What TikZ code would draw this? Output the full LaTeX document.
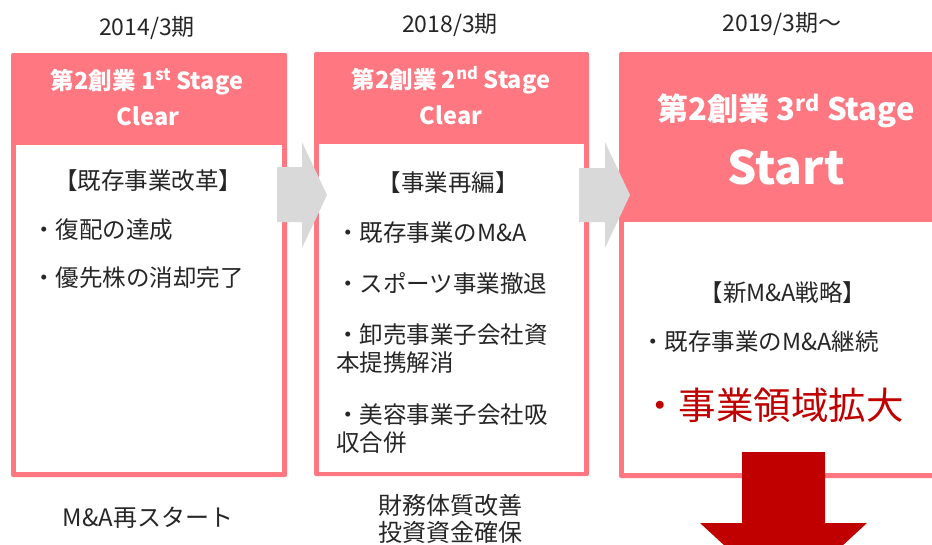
\documentclass[tikz,border=0pt]{standalone}
\usepackage{fontspec}
\setmainfont{Noto Sans CJK JP}
\definecolor{pinkc}{HTML}{FF7780}
\definecolor{grayc}{HTML}{D9D9D9}
\definecolor{redc}{HTML}{C00000}
\definecolor{txt}{HTML}{262626}
\begin{document}
\begin{tikzpicture}[x=1pt,y=-1pt,
  year/.style={font=\fontsize{23}{27}\selectfont, text=txt, inner sep=0},
  hdr/.style={font=\fontsize{23.5}{28}\selectfont\bfseries, text=white, inner sep=0},
  body/.style={font=\fontsize{23.5}{28}\selectfont, text=txt, inner sep=0, anchor=west},
  bodyc/.style={font=\fontsize{23.5}{28}\selectfont, text=txt, inner sep=0},
  small/.style={font=\fontsize{23.5}{28}\selectfont, text=txt, inner sep=0},
  below/.style={font=\fontsize{24}{27}\selectfont, text=txt, inner sep=0, align=center},
  outer/.style={fill=pinkc, rounded corners=2pt},
  inner/.style={fill=white},
  grayarrow/.style={fill=grayc},
  redarrow/.style={fill=redc}]
\useasboundingbox (0,0) rectangle (932,544);
\clip (0,0) rectangle (932,544);

% year labels
\node[year] (y1) at (147,28) {2014/3期};
\node[year] (y2) at (450,25) {2018/3期};
\node[year] (y3) at (782,24) {2019/3期～};

% box 1
\fill[outer] (11,53) rectangle (287,477);
\fill[inner] (16,145) rectangle (282,472);
% box 2
\fill[outer] (314,52) rectangle (589,476);
\fill[inner] (319,144) rectangle (584,472);
% box 3
\fill[outer] (619,52) rectangle (960,478);
\fill[inner] (624,222) rectangle (960,473);

% headers
\node[hdr] (h1a) at (147,82) {第2創業 1\textsuperscript{st} Stage};
\node[hdr] (h1b) at (148,116) {Clear};
\node[hdr] (h2a) at (451,80) {第2創業 2\textsuperscript{nd} Stage};
\node[hdr] (h2b) at (451,115) {Clear};
\node[hdr, font=\fontsize{31}{36}\selectfont\bfseries] (h3a) at (786,111) {第2創業 3\textsuperscript{rd} Stage};
\node[hdr, font=\fontsize{46}{50}\selectfont\bfseries] (h3b) at (786,167) {Start};

% box 1 body
\node[bodyc] (t1) at (148,181) {【既存事業改革】};
\node[body] (b11) at (32,230) {・復配の達成};
\node[body] (b12) at (32,278) {・優先株の消却完了};

% box 2 body
\node[bodyc] (t2) at (448,183) {【事業再編】};
\node[body] (b21) at (336,233) {・既存事業のM\&A};
\node[body] (b22) at (336,283) {・スポーツ事業撤退};
\node[body] (b23) at (336,335) {・卸売事業子会社資};
\node[body] (b23b) at (336,363) {本提携解消};
\node[body] (b24) at (336,415) {・美容事業子会社吸};
\node[body] (b24b) at (336,443) {収合併};

% box 3 body
\node[small] (t3) at (783,293) {【新M\&A戦略】};
\node[small, anchor=west] (b31) at (641,342) {・既存事業のM\&A継続};
\node[inner sep=0, anchor=west, text=redc, font=\fontsize{37.5}{40}\selectfont] (b32) at (641,405) {・事業領域拡大};

% below texts
\node[below] (u1) at (148,518) {M\&A再スタート};
\node[below] (u2a) at (450,505) {財務体質改善};
\node[below] (u2b) at (450,532) {投資資金確保};

% gray arrows
\fill[grayarrow] (277,167) -- (302,167) -- (302,142) -- (327,195) -- (302,248) -- (302,222) -- (277,222) -- cycle;
\fill[grayarrow] (579,168) -- (605,168) -- (605,142) -- (630,195) -- (605,248) -- (605,222) -- (579,222) -- cycle;

% red down arrow
\fill[redarrow] (742,452) -- (825,452) -- (825,523) -- (867,523) -- (783.5,600) -- (700,523) -- (742,523) -- cycle;
\end{tikzpicture}
\end{document}
